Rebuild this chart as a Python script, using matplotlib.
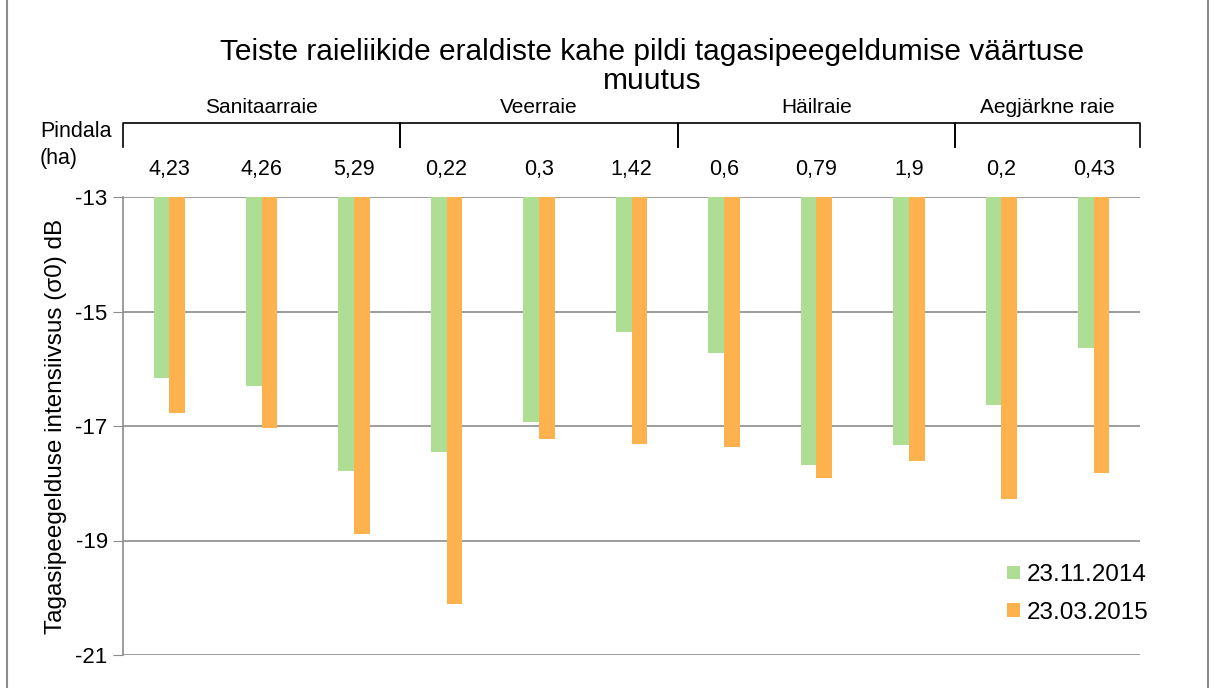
import numpy as np
import matplotlib.pyplot as plt
from matplotlib.patches import Rectangle

plt.rcParams['font.family'] = ['Liberation Sans', 'DejaVu Sans']
plt.rcParams['axes.unicode_minus'] = False

# Data
groups = ['Sanitaarraie', 'Veerraie', 'Häilraie', 'Aegjärkne raie']
group_sizes = [3, 3, 3, 2]
area_labels = ['4,23', '4,26', '5,29', '0,22', '0,3', '1,42', '0,6', '0,79', '1,9', '0,2', '0,43']
nov_2014 = [-16.16, -16.30, -17.79, -17.45, -16.93, -15.36, -15.72, -17.68, -17.33, -16.63, -15.64]
mar_2015 = [-16.77, -17.03, -18.89, -20.11, -17.23, -17.31, -17.37, -17.91, -17.61, -18.28, -17.82]

green = '#AEDD94'
orange = '#FDB24D'
base = -13

fig = plt.figure(figsize=(12.18, 6.88), dpi=100)
ax = fig.add_axes([123 / 1218, 1 - 655 / 688, (1140 - 123) / 1218, (655 - 197) / 688])

x = np.arange(len(area_labels))
w = 0.17
ax.bar(x - w / 2, np.array(nov_2014) - base, bottom=base, width=w, color=green, label='23.11.2014')
ax.bar(x + w / 2, np.array(mar_2015) - base, bottom=base, width=w, color=orange, label='23.03.2015')

ax.set_xlim(-0.5, len(area_labels) - 0.5)
ax.set_ylim(-21, -13)
ax.set_yticks([-13, -15, -17, -19, -21])
ax.yaxis.grid(True, color='#8c8c8c', linewidth=1.2)
ax.set_axisbelow(True)
for s in ['top', 'right', 'bottom']:
    ax.spines[s].set_visible(False)
ax.spines['left'].set_color('#8c8c8c')
ax.spines['left'].set_linewidth(1.2)
ax.tick_params(axis='y', length=7, color='#8c8c8c', labelsize=16, pad=4)

# area labels on top
ax.xaxis.tick_top()
ax.set_xticks(x)
ax.set_xticklabels(area_labels, fontsize=15.5)
ax.tick_params(axis='x', length=0, pad=12)

ax.set_ylabel('Tagasipeegelduse intensiivsus (σ0) dB', fontsize=17.5, labelpad=6)

# group brackets
trans = ax.get_xaxis_transform()
start = -0.5
for name, n in zip(groups, group_sizes):
    end = start + n
    ax.plot([start, start, end, end], [1.11, 1.162, 1.162, 1.11], color='black',
            linewidth=1.2, transform=trans, clip_on=False)
    ax.text((start + end) / 2, 1.175, name, transform=trans, ha='center', va='bottom', fontsize=15)
    start = end

fig.text(40 / 1218, 1 - 145 / 688, 'Pindala\n(ha)', ha='left', va='center', fontsize=15.5, linespacing=1.35)

fig.suptitle('Teiste raieliikide eraldiste kahe pildi tagasipeegeldumise väärtuse\nmuutus',
             x=652 / 1218, y=1 - 38 / 688, fontsize=21.5, va='top', linespacing=1.05)

ax.legend(loc='lower right', bbox_to_anchor=(1.03, 0.02), frameon=False, fontsize=17.5,
          handlelength=0.5, handleheight=0.5, handletextpad=0.3, labelspacing=0.65)

# outer chart border
fig.patches.append(Rectangle((7 / 1218, -0.02), (1208 - 7) / 1218, 1.04, transform=fig.transFigure,
                             fill=False, edgecolor='#8c8c8c', linewidth=1.5))

fig.savefig('out.png', dpi=100)
